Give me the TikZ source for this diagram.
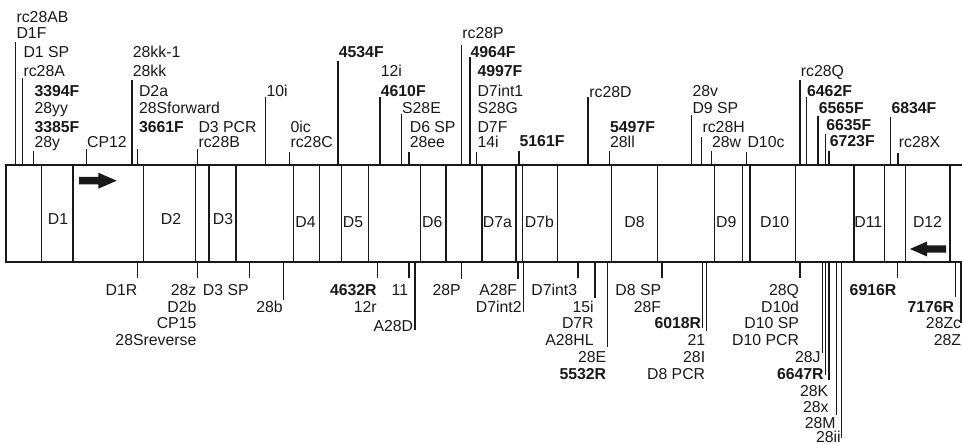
\documentclass[tikz,border=0pt]{standalone}
\usepackage{fontspec}
\setmainfont{Liberation Sans}
\begin{document}
\begin{tikzpicture}[x=0.2mm, y=-0.2mm,
  font=\fontsize{9}{10}\selectfont,
  trait/.style={line width=0.9pt, black!90},
  lbl/.style={inner sep=0pt, text height=6.4pt, text depth=0pt, text=black!90},
  haut/.style={lbl, anchor=west},
  bas/.style={lbl, anchor=east},
  gras/.style={font=\fontsize{9}{10}\selectfont\bfseries},
  fleche/.style={fill=black!90, draw=none}
]
  \useasboundingbox (0,0) rectangle (962,444);
  % boîte et segments
  \draw[trait] (962,165) -- (6,165) -- (6,262) -- (962,262);
  \foreach \x in {41.7,73,143.3,195.7,209,236,293.3,319.3,341.7,368.3,420.7,446,482,516,522.3,
                  557.3,611.3,657.3,714.7,742.7,750,795.7,854,884.3,905.7,950}
    \draw[trait] (\x,165) -- (\x,262);
  \node[lbl] (d1)  at (58,219)    {D1};
  \node[lbl] (d2)  at (171,219)   {D2};
  \node[lbl] (d3)  at (223,219)   {D3};
  \node[lbl] (d4)  at (305.5,222) {D4};
  \node[lbl] (d5)  at (353,222)   {D5};
  \node[lbl] (d6)  at (432.3,222) {D6};
  \node[lbl] (d7a) at (497.5,222) {D7a};
  \node[lbl] (d7b) at (539.5,222) {D7b};
  \node[lbl] (d8)  at (634.5,222) {D8};
  \node[lbl] (d9)  at (726.3,222) {D9};
  \node[lbl] (d10) at (774.7,222) {D10};
  \node[lbl] (d11) at (868.3,222) {D11};
  \node[lbl] (d12) at (927.5,222) {D12};
  \fill[fleche] (79,177) -- (98.3,177) -- (98.3,172.7) -- (116.7,180.7) -- (98.3,188.7)
                -- (98.3,184.4) -- (79,184.4) -- cycle;
  \fill[fleche] (946,245.3) -- (927,245.3) -- (927,241.5) -- (910,249) -- (927,256.5)
                -- (927,252.7) -- (946,252.7) -- cycle;
  % repères du haut
  \draw[trait] (15.7,165) -- (15.7,41.7);
  \node[haut] (h1) at (16.2,16.7) {rc28AB};
  \node[haut] (h2) at (16.2,33.3) {D1F};
  \draw[trait] (22.7,165) -- (22.7,78);
  \node[haut] (h3) at (23.2,51.7) {D1 SP};
  \node[haut] (h4) at (23.2,71) {rc28A};
  \draw[trait] (33.7,165) -- (33.7,150.7);
  \node[haut, gras] (h5) at (34.2,90.5) {3394F};
  \node[haut] (h6) at (34.2,108.3) {28yy};
  \node[haut, gras] (h7) at (34.2,126.7) {3385F};
  \node[haut] (h8) at (34.2,142) {28y};
  \draw[trait] (86.3,165) -- (86.3,149.3);
  \node[haut] (h9) at (86.8,142) {CP12};
  \draw[trait] (132,165) -- (132,80);
  \node[haut] (h10) at (132.5,51.7) {28kk-1};
  \node[haut] (h11) at (132.5,71) {28kk};
  \draw[trait] (137.7,165) -- (137.7,149.3);
  \node[haut] (h12) at (138.7,90.5) {D2a};
  \node[haut] (h13) at (138.7,108.3) {28Sforward};
  \node[haut, gras] (h14) at (138.7,126.7) {3661F};
  \draw[trait] (197.7,165) -- (197.7,149.3);
  \node[haut] (h15) at (198.2,126.7) {D3 PCR};
  \node[haut] (h16) at (198.2,142) {rc28B};
  \draw[trait] (265.7,165) -- (265.7,96.7);
  \node[haut] (h17) at (266.2,90.5) {10i};
  \draw[trait] (289.7,165) -- (289.7,152.3);
  \node[haut] (h18) at (290.2,126.7) {0ic};
  \node[haut] (h19) at (290.2,142) {rc28C};
  \draw[trait] (338,165) -- (338,61);
  \node[haut, gras] (h20) at (338.5,51.7) {4534F};
  \draw[trait] (380,165) -- (380,96.7);
  \node[haut] (h21) at (380.5,71) {12i};
  \node[haut, gras] (h22) at (380.5,90.5) {4610F};
  \draw[trait] (401.3,165) -- (401.3,114.3);
  \node[haut] (h23) at (401.8,108.3) {S28E};
  \draw[trait] (409,165) -- (409,152.3);
  \node[haut] (h24) at (409.5,126.7) {D6 SP};
  \node[haut] (h25) at (409.5,142) {28ee};
  \draw[trait] (461.5,165) -- (461.5,45);
  \node[haut] (h26) at (462,33.3) {rc28P};
  \draw[trait] (469.8,165) -- (469.8,57.3);
  \node[haut, gras] (h27) at (470.3,51.7) {4964F};
  \draw[trait] (476.7,165) -- (476.7,152.3);
  \node[haut, gras] (h28) at (477.2,71) {4997F};
  \node[haut] (h29) at (477.2,90.5) {D7int1};
  \node[haut] (h30) at (477.2,108.3) {S28G};
  \node[haut] (h31) at (477.2,126.7) {D7F};
  \node[haut] (h32) at (477.2,142) {14i};
  \draw[trait] (518.8,165) -- (518.8,151);
  \node[haut, gras] (h33) at (519.3,140.7) {5161F};
  \draw[trait] (588,165) -- (588,97.3);
  \node[haut] (h34) at (589,91.7) {rc28D};
  \draw[trait] (609.3,165) -- (609.3,151);
  \node[haut, gras] (h35) at (609.8,126.7) {5497F};
  \node[haut] (h36) at (609.8,142) {28ll};
  \draw[trait] (691.7,165) -- (691.7,115);
  \node[haut] (h37) at (692.2,90.5) {28v};
  \node[haut] (h38) at (692.2,108.3) {D9 SP};
  \draw[trait] (701.7,165) -- (701.7,136.7);
  \node[haut] (h39) at (702.2,126.7) {rc28H};
  \draw[trait] (711.3,165) -- (711.3,151);
  \node[haut] (h40) at (711.8,142) {28w};
  \draw[trait] (746.7,165) -- (746.7,151.7);
  \node[haut] (h41) at (747.2,142) {D10c};
  \draw[trait] (800,165) -- (800,80);
  \node[haut] (h42) at (800.5,71) {rc28Q};
  \draw[trait] (806.3,165) -- (806.3,97.3);
  \node[haut, gras] (h43) at (806.8,90.5) {6462F};
  \draw[trait] (818,165) -- (818,116);
  \node[haut, gras] (h44) at (818.5,108.3) {6565F};
  \draw[trait] (825.5,165) -- (825.5,134);
  \node[haut, gras] (h45) at (826,125) {6635F};
  \draw[trait] (829,165) -- (829,151);
  \node[haut, gras] (h46) at (829.5,140.7) {6723F};
  \draw[trait] (890.7,165) -- (890.7,117.3);
  \node[haut, gras] (h47) at (891.2,108.3) {6834F};
  \draw[trait] (898,165) -- (898,152.7);
  \node[haut] (h48) at (898.5,142) {rc28X};
  % repères du bas
  \draw[trait] (137.7,262) -- (137.7,278.3);
  \node[bas] (b1) at (137.7,289.5) {D1R};
  \draw[trait] (197.7,262) -- (197.7,278.3);
  \node[bas] (b2) at (196.7,289.5) {28z};
  \node[bas] (b3) at (196.7,306.7) {D2b};
  \node[bas] (b4) at (196.7,323.3) {CP15};
  \node[bas] (b5) at (196.7,340) {28Sreverse};
  \draw[trait] (249.3,262) -- (249.3,278.3);
  \node[bas] (b6) at (249,289.5) {D3 SP};
  \draw[trait] (283.3,262) -- (283.3,300);
  \node[bas] (b7) at (283,306.7) {28b};
  \draw[trait] (377.3,262) -- (377.3,278);
  \node[bas, gras] (b8) at (377,289.5) {4632R};
  \node[bas] (b9) at (377,306.7) {12r};
  \draw[trait] (409,262) -- (409,278);
  \node[bas] (b10) at (408.5,289.5) {11};
  \draw[trait] (415,262) -- (415,330);
  \node[bas] (b11) at (413.5,326) {A28D};
  \draw[trait] (461.7,262) -- (461.7,279);
  \node[bas] (b12) at (461,289.5) {28P};
  \draw[trait] (518.2,262) -- (518.2,279);
  \node[bas] (b13) at (517.5,289.5) {A28F};
  \draw[trait] (523.3,262) -- (523.3,311.7);
  \node[bas] (b14) at (522,307) {D7int2};
  \draw[trait] (578,262) -- (578,278.3);
  \node[bas] (b15) at (577.5,289.5) {D7int3};
  \draw[trait] (595,262) -- (595,298.3);
  \node[bas] (b16) at (594,306.7) {15i};
  \node[bas] (b17) at (594,323.3) {D7R};
  \node[bas] (b18) at (594,340) {A28HL};
  \draw[trait] (607.3,262) -- (607.3,347.3);
  \node[bas] (b19) at (606.5,356.7) {28E};
  \node[bas, gras] (b20) at (606.5,374) {5532R};
  \draw[trait] (662,262) -- (662,278.3);
  \node[bas] (b21) at (661.5,289.5) {D8 SP};
  \node[bas] (b22) at (661.5,306.7) {28F};
  \draw[trait] (702.7,262) -- (702.7,328);
  \node[bas, gras] (b23) at (701.5,323.3) {6018R};
  \draw[trait] (706.7,262) -- (706.7,331);
  \node[bas] (b24) at (705.5,340) {21};
  \node[bas] (b25) at (705.5,356.7) {28I};
  \node[bas] (b26) at (705.5,374) {D8 PCR};
  \draw[trait] (800,262) -- (800,278.3);
  \node[bas] (b27) at (799.3,289.5) {28Q};
  \node[bas] (b28) at (799.3,306.7) {D10d};
  \node[bas] (b29) at (799.3,323.3) {D10 SP};
  \node[bas] (b30) at (799.3,340) {D10 PCR};
  \draw[trait] (822.5,262) -- (822.5,353.3);
  \node[bas] (b31) at (821,356.7) {28J};
  \draw[trait] (825.3,262) -- (825.3,375);
  \node[bas, gras] (b32) at (824,374) {6647R};
  \draw[trait] (829,262) -- (829,380);
  \node[bas] (b33) at (828.5,390.7) {28K};
  \node[bas] (b34) at (829,406.7) {28x};
  \draw[trait] (836.7,262) -- (836.7,415);
  \node[bas] (b35) at (836,422.7) {28M};
  \draw[trait] (841.5,262) -- (841.5,438.3);
  \node[bas] (b36) at (841,436.7) {28ii};
  \draw[trait] (897.7,262) -- (897.7,277.7);
  \node[bas, gras] (b37) at (896.7,289.5) {6916R};
  \draw[trait] (955.7,262) -- (955.7,296.7);
  \node[bas, gras] (b38) at (954.5,306.7) {7176R};
  \draw[trait] (961,262) -- (961,322.7);
  \node[bas] (b39) at (961.5,323.3) {28Zc};
  \node[bas] (b40) at (961.5,340) {28Z};
\end{tikzpicture}
\end{document}
